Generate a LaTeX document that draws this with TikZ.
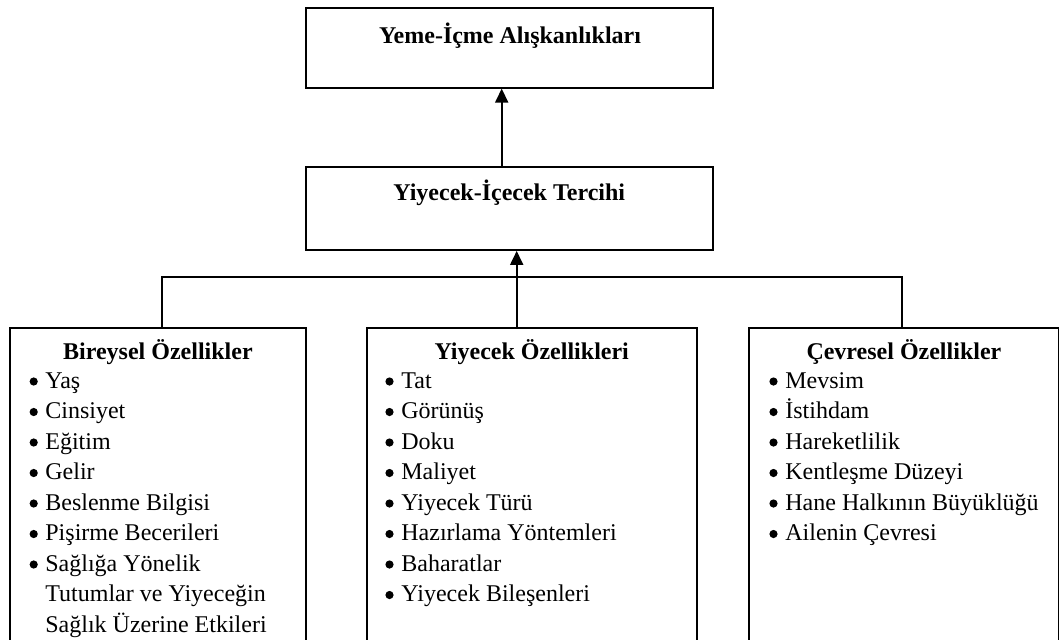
\documentclass[tikz,border=0pt]{standalone}
\usepackage{fontspec}
\setmainfont{Liberation Serif}
\usetikzlibrary{arrows.meta,positioning,calc}

\begin{document}
\begin{tikzpicture}[x=0.5pt,y=-0.5pt,
        every node/.style={font=\fontsize{12pt}{14pt}\selectfont},
        box/.style={rectangle,draw=black,line width=0.9pt,inner sep=0pt},
        mainbox/.style={box,minimum width=203.5pt,minimum height=39.7pt},
        catbox/.style={box,anchor=north,minimum height=177pt},
        head/.style={anchor=base,inner sep=0pt,font=\fontsize{12pt}{14pt}\selectfont\bfseries},
        itm/.style={anchor=base west,inner sep=0pt},
        link/.style={black,line width=0.9pt},
        up/.style={link,-{Triangle[width=6.5pt,length=7pt]}}]
    \useasboundingbox (0,0) rectangle (1061,639);
    \clip (0,0) rectangle (1061,639);
    % upper boxes
    \path   (509.2,48)    node (habits) [mainbox] {}
            (509.2,208.3) node (pref)   [mainbox,minimum height=41.7pt] {}
            (510,43)      node (habits-t) [head] {Yeme-İçme Alışkanlıkları}
            (509.2,200)   node (pref-t)   [head] {Yiyecek-İçecek Tercihi};
    % three groups
    \path   (157.9,326.7) node (indiv) [catbox,minimum width=147.85pt] {}
            (531.7,326.7) node (food)  [catbox,minimum width=165pt] {}
            (903.9,326.7) node (env)   [catbox,minimum width=154.6pt] {}
            (157.9,359)   node (indiv-t) [head] {Bireysel Özellikler}
            (531.7,359)   node (food-t)  [head] {Yiyecek Özellikleri}
            (903.9,359)   node (env-t)   [head] {Çevresel Özellikler};
    \foreach \txt [count=\i from 0] in {Yaş, Cinsiyet, Eğitim, Gelir, Beslenme Bilgisi,
            Pişirme Becerileri, Sağlığa Yönelik}{
        \node (bi\i) [itm] at (45,{388+30.5*\i}) {\txt};
        \fill (33.7,{381.5+30.5*\i}) circle (4.1);}
    \node (bi7) [itm] at (45,601.5) {Tutumlar ve Yiyeceğin};
    \node (bi8) [itm] at (45,632)   {Sağlık Üzerine Etkileri};
    \foreach \txt [count=\i from 0] in {Tat, Görünüş, Doku, Maliyet, Yiyecek Türü,
            Hazırlama Yöntemleri, Baharatlar, Yiyecek Bileşenleri}{
        \node (yi\i) [itm] at (401,{388+30.5*\i}) {\txt};
        \fill (389.5,{381.5+30.5*\i}) circle (4.1);}
    \foreach \txt [count=\i from 0] in {Mevsim, İstihdam, Hareketlilik, Kentleşme Düzeyi,
            Hane Halkının Büyüklüğü, Ailenin Çevresi}{
        \node (ce\i) [itm] at (785,{388+30.5*\i}) {\txt};
        \fill (773.5,{381.5+30.5*\i}) circle (4.1);}
    % connectors
    \coordinate (bus) at (0,277.3);
    \coordinate (l) at ([xshift=2pt]indiv.north);
    \coordinate (r) at ([xshift=-1.1pt]env.north);
    \coordinate (m) at ([xshift=-7.5pt]food.north);
    \draw [link] (l) |- (bus -| r) -- (r);
    \draw [up] (m) -- (m |- pref.south);
    \draw [up] ([xshift=-3.75pt]pref.north) -- ([xshift=-3.75pt]habits.south);
\end{tikzpicture}
\end{document}
